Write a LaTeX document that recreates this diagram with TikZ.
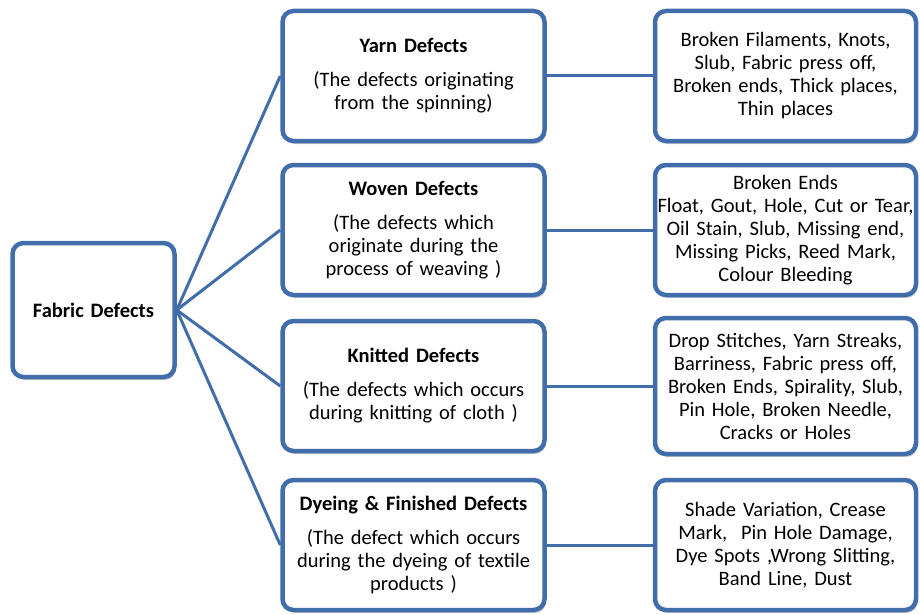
\documentclass[tikz,border=0pt]{standalone}
\usepackage{fontspec}
\setmainfont{Carlito}
\usetikzlibrary{positioning,shadows}
\definecolor{boxblue}{RGB}{65,110,170}
\newcommand{\kindtitle}[1]{\textbf{#1}\\[11pt]}

\begin{document}
\begin{tikzpicture}[x=1pt,y=-1pt,
    node distance=106pt,
    box/.style={rectangle,rounded corners=11pt,draw=boxblue,line width=4.5pt,fill=white,
      drop shadow={opacity=0.4,shadow xshift=1.5pt,shadow yshift=-3pt},
      align=center,inner sep=0pt,font=\fontsize{20.5}{23}\selectfont},
    root/.style={box,text width=162pt,minimum height=134pt},
    kind/.style={box,text width=262pt,minimum height=130pt},
    list/.style={box,text width=261pt,minimum height=130pt},
    link/.style={draw=boxblue,line width=3pt}
  ]
    \useasboundingbox (0,0) rectangle (920,615);

    \node[root] (fabric) at (93.5,310) {\textbf{Fabric Defects}};

    \node[kind] (yarn) at (413.5,76) {\kindtitle{Yarn Defects}(The defects originating\\from the spinning)};
    \node[kind] (woven) at (413.5,230) {\kindtitle{Woven Defects}(The defects which\\originate during the\\process of weaving )};
    \node[kind] (knitted) at (413.5,386) {\kindtitle{Knitted Defects}(The defects which occurs\\during knitting of cloth )};
    \node[kind] (dyeing) at (413.5,545) {\kindtitle{Dyeing \& Finished Defects}(The defect which occurs\\during the dyeing of textile\\products )};

    \node[list,right=of yarn] (yarnlist) {Broken Filaments, Knots,\\Slub, Fabric press off,\\Broken ends, Thick places,\\Thin places};
    \node[list,right=of woven] (wovenlist) {Broken Ends\\Float, Gout, Hole, Cut or Tear,\\Oil Stain, Slub, Missing end,\\Missing Picks, Reed Mark,\\Colour Bleeding};
    \node[list,right=of knitted,minimum height=136pt] (knittedlist) {Drop Stitches, Yarn Streaks,\\Barriness, Fabric press off,\\Broken Ends, Spirality, Slub,\\Pin Hole, Broken Needle,\\Cracks or Holes};
    \node[list,right=of dyeing] (dyeinglist) {Shade Variation, Crease\\Mark, \ Pin Hole Damage,\\Dye Spots ,Wrong Slitting,\\Band Line, Dust};

    \foreach \k in {yarn,woven,knitted,dyeing}{
      \draw[link] (fabric.east) -- (\k.west);
      \draw[link] (\k.east) -- (\k list.west);
    }
  \end{tikzpicture}
\end{document}
